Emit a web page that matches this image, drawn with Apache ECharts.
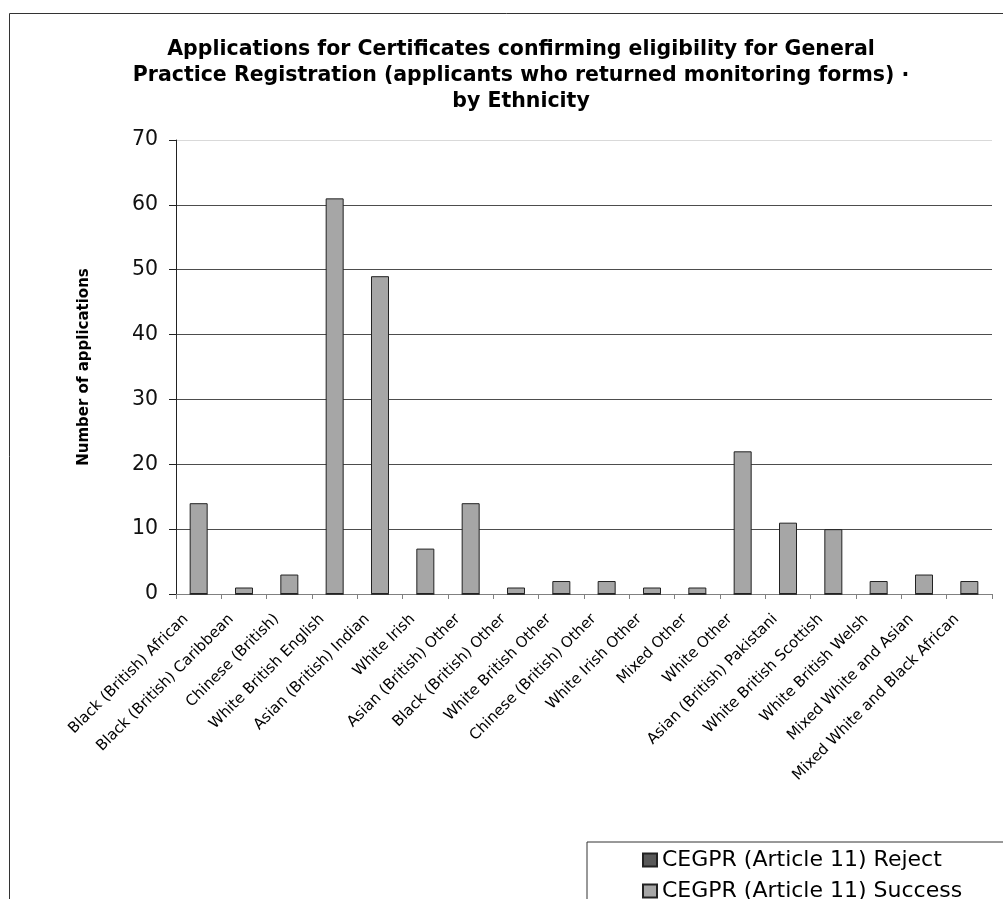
<!DOCTYPE html>
<html>
<head>
<meta charset="utf-8">
<title>CEGPR applications by ethnicity</title>
<script src="https://cdn.jsdelivr.net/npm/echarts@6/dist/echarts.min.js"></script>
<style>
  html, body { margin: 0; padding: 0; background: #fff; }
  #chart { width: 1003px; height: 899px; }
</style>
</head>
<body>
<div id="chart"></div>
<script>
// Ethnic groups along the category axis
const categories = [
  'Black (British) African',
  'Black (British) Caribbean',
  'Chinese (British)',
  'White British English',
  'Asian (British) Indian',
  'White Irish',
  'Asian (British) Other',
  'Black (British) Other',
  'White British Other',
  'Chinese (British) Other',
  'White Irish Other',
  'Mixed Other',
  'White Other',
  'Asian (British) Pakistani',
  'White British Scottish',
  'White British Welsh',
  'Mixed White and Asian',
  'Mixed White and Black African'
];

// Number of applications per group
const rejectValues  = [0, 0, 0, 0, 0, 0, 0, 0, 0, 0, 0, 0, 0, 0, 0, 0, 0, 0];
const successValues = [14, 1, 3, 61, 49, 7, 14, 1, 2, 2, 1, 1, 22, 11, 10, 2, 3, 2];

const seriesNames = ['CEGPR (Article 11) Reject', 'CEGPR (Article 11) Success'];
const yTicks = { min: 0, max: 70, step: 10 };

const titleText = 'Applications for Certificates confirming eligibility for General\n' +
                  'Practice Registration (applicants who returned monitoring forms) \u00b7\n' +
                  'by Ethnicity';
const yAxisTitle = 'Number of applications';

const chart = echarts.init(document.getElementById('chart'), null, { renderer: 'canvas' });

chart.setOption({
  backgroundColor: '#ffffff',
  animation: false,
  textStyle: { fontFamily: 'DejaVu Sans', color: '#000' },
  graphic: [
    {
      // outer chart frame, running past the right and bottom edges
      type: 'rect',
      shape: { x: 9.5, y: 13.5, width: 1200, height: 1200 },
      style: { fill: null, stroke: '#333', lineWidth: 1 },
      silent: true,
      z: -10
    }
  ],
  title: {
    text: titleText,
    left: 516,
    top: 32,
    textAlign: 'center',
    textStyle: {
      fontFamily: 'DejaVu Sans',
      fontWeight: 'bold',
      fontSize: 20.5,
      lineHeight: 26,
      color: '#000'
    }
  },
  legend: {
    orient: 'vertical',
    left: 587,
    top: 842,
    height: 120,
    padding: [6, 300, 20, 55],
    itemGap: 7,
    itemWidth: 14,
    itemHeight: 13,
    borderColor: '#333',
    borderWidth: 1,
    backgroundColor: '#fff',
    selectedMode: false,
    textStyle: { fontFamily: 'DejaVu Sans', fontSize: 22, lineHeight: 24, color: '#000' },
    data: seriesNames.map(n => ({ name: n, icon: 'rect' }))
  },
  grid: {
    left: 176,
    right: 11,
    top: 140,
    bottom: 305,
    containLabel: false
  },
  xAxis: {
    type: 'category',
    data: categories,
    boundaryGap: true,
    axisLine: { show: true, lineStyle: { color: '#808080', width: 1 } },
    axisTick: { show: true, length: 5, inside: false, lineStyle: { color: '#808080' } },
    axisLabel: {
      interval: 0,
      rotate: 45,
      margin: 10,
      padding: [0, 18, 0, 0],
      fontFamily: 'DejaVu Sans',
      fontSize: 15,
      color: '#000'
    },
    splitLine: { show: false }
  },
  yAxis: {
    type: 'value',
    min: yTicks.min,
    max: yTicks.max,
    interval: yTicks.step,
    name: yAxisTitle,
    nameLocation: 'middle',
    nameRotate: 90,
    nameGap: 84,
    nameTextStyle: { fontFamily: 'DejaVu Sans', fontWeight: 'bold', fontSize: 15, color: '#000' },
    axisLine: { show: true, lineStyle: { color: '#222', width: 1 } },
    axisTick: { show: true, length: 7, inside: false, lineStyle: { color: '#222' } },
    axisLabel: { margin: 18, fontFamily: 'DejaVu Sans', fontSize: 20.5, color: '#111' },
    splitLine: {
      show: true,
      lineStyle: {
        width: 1,
        color: ['#808080', '#4d4d4d', '#4d4d4d', '#4d4d4d', '#4d4d4d', '#4d4d4d', '#4d4d4d', '#d9d9d9']
      }
    }
  },
  series: [
    {
      name: seriesNames[0],
      type: 'bar',
      data: rejectValues,
      barWidth: 18,
      barGap: '-100%',
      z: 1,
      itemStyle: { color: '#595959', borderColor: '#222', borderWidth: 1 }
    },
    {
      name: seriesNames[1],
      type: 'bar',
      data: successValues,
      barWidth: 18,
      barGap: '-100%',
      z: 2,
      itemStyle: { color: '#a6a6a6', borderColor: '#222', borderWidth: 1 }
    }
  ]
});
</script>
</body>
</html>
